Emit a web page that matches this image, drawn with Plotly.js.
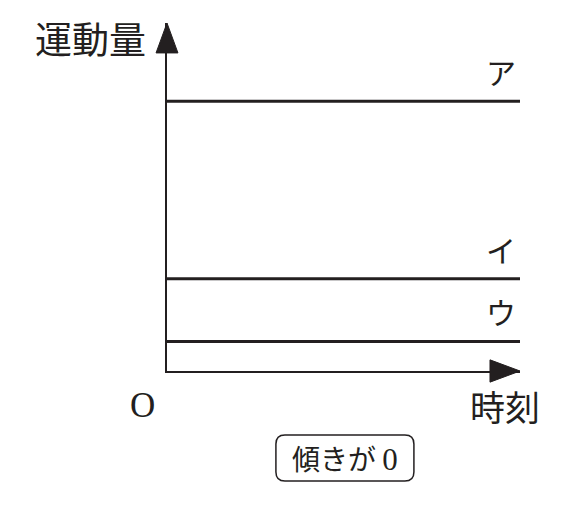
<!DOCTYPE html>
<html>
<head>
<meta charset="utf-8">
<script src="https://cdn.plot.ly/plotly-3.0.1.min.js"></script>
<style>
  html, body { margin: 0; padding: 0; background: #fff; }
  #chart { width: 586px; height: 511px; }
</style>
</head>
<body>
<div id="chart"></div>
<script>
// momentum stays constant over time (slope 0) for each body
const labels = ['ア', 'イ', 'ウ'];
const momentum = [7.75, 2.65, 0.85];
const timeSpan = [0, 10];

const ink = '#231f20';
const jp = '"Noto Sans CJK JP", "Noto Sans", sans-serif';
const serif = '"Liberation Serif", "DejaVu Serif", serif';

const data = labels.map((name, i) => ({
    x: timeSpan,
    y: [momentum[i], momentum[i]],
    name: name,
    mode: 'lines',
    type: 'scatter',
    line: { color: ink, width: 3 },
    hoverinfo: 'skip'
}));

const notes = labels.map((name, i) => ({
    x: 9.45, y: momentum[i],
    xref: 'x', yref: 'y',
    text: name, showarrow: false,
    xanchor: 'center', yanchor: 'bottom', yshift: 6,
    font: { family: jp, size: 30, color: ink }
}));

const paperNote = (x, y, text, font) => ({
    x: x, y: y, xref: 'paper', yref: 'paper', text: text, showarrow: false,
    xanchor: 'center', yanchor: 'middle', font: font
});

notes.push(
    paperNote(-0.218, 0.957, '運動量', { family: jp, size: 37, color: ink }),
    paperNote(-0.068, -0.098, 'O', { family: serif, size: 35, color: ink }),
    paperNote(0.958, -0.098, '時刻', { family: jp, size: 35, color: ink }),
    paperNote(0.504, -0.25,
              '傾きが <span style="font-family:Liberation Serif;font-size:31px">0</span>',
              { family: jp, size: 28, color: ink })
);

// rounded box around the slope note, in pixels around its centre
const bw = 69, bh = 23, r = 9;
const boxPath = `M ${-bw + r} ${-bh} L ${bw - r} ${-bh} Q ${bw} ${-bh} ${bw} ${-bh + r} ` +
    `L ${bw} ${bh - r} Q ${bw} ${bh} ${bw - r} ${bh} L ${-bw + r} ${bh} ` +
    `Q ${-bw} ${bh} ${-bw} ${bh - r} L ${-bw} ${-bh + r} Q ${-bw} ${-bh} ${-bw + r} ${-bh} Z`;

const shapes = [
    // y-axis arrowhead
    { type: 'path', xref: 'paper', yref: 'paper',
      path: 'M -0.031 0.914 L 0 1 L 0.031 0.914 Z',
      fillcolor: ink, line: { color: ink, width: 1 } },
    // x-axis arrowhead
    { type: 'path', xref: 'paper', yref: 'paper',
      path: 'M 0.915 0.032 L 1 0 L 0.915 -0.032 Z',
      fillcolor: ink, line: { color: ink, width: 1 } },
    { type: 'path', xref: 'paper', yref: 'paper',
      xsizemode: 'pixel', ysizemode: 'pixel', xanchor: 0.504, yanchor: -0.25,
      path: boxPath, fillcolor: 'rgba(0,0,0,0)', line: { color: ink, width: 1.5 } }
];

const layout = {
    width: 586, height: 511,
    paper_bgcolor: '#fff',
    plot_bgcolor: '#fff',
    showlegend: false,
    margin: { t: 23, b: 140, l: 167, r: 66 },
    xaxis: { range: timeSpan, showgrid: false, zeroline: false, showticklabels: false,
             ticks: '', showline: true, linecolor: ink, linewidth: 2, fixedrange: true },
    yaxis: { range: [0, 10], showgrid: false, zeroline: false, showticklabels: false,
             ticks: '', showline: true, linecolor: ink, linewidth: 2, fixedrange: true },
    annotations: notes,
    shapes: shapes
};

Plotly.newPlot('chart', data, layout, { displayModeBar: false, staticPlot: true });
</script>
</body>
</html>
